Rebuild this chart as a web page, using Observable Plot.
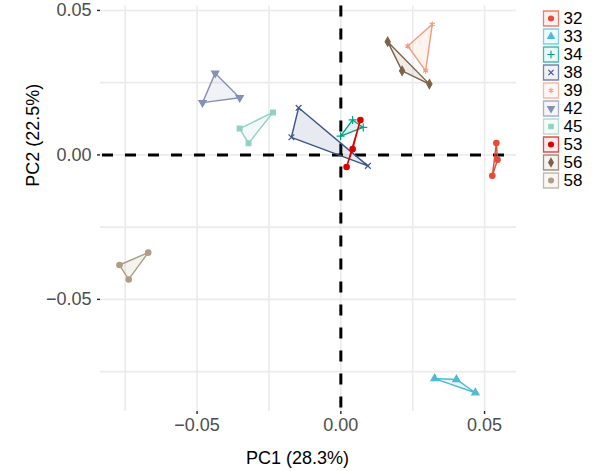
<!DOCTYPE html>
<html>
<head>
<meta charset="utf-8">
<script src="https://cdn.jsdelivr.net/npm/d3@7"></script>
<script src="https://cdn.jsdelivr.net/npm/@observablehq/plot@0.6"></script>
<style>
  body { margin: 0; background: white; }
  #wrap { position: relative; width: 597px; height: 471px; overflow: hidden; background: white; }
  #legend { position: absolute; left: 530px; top: 0px; }
</style>
</head>
<body>
<div id="wrap"><div id="chart"></div><div id="legend"></div></div>
<script>
// ---- data ----
const groups = ["32", "33", "34", "38", "39", "42", "45", "53", "56", "58"];
const sampleGroup = [
  "32","32","32", "33","33","33", "34","34","34", "38","38","38",
  "39","39","39", "42","42","42", "45","45","45", "53","53","53",
  "56","56","56", "58","58","58"
];
const pc1Values = [
  0.0541, 0.0545, 0.0527,
  0.0326, 0.0402, 0.0468,
  -0.0001, 0.0041, 0.0078,
  -0.0147, -0.0172, 0.0094,
  0.0318, 0.0233, 0.0295,
  -0.0437, -0.0481, -0.0352,
  -0.0236, -0.0352, -0.0321,
  0.0068, 0.0041, 0.0020,
  0.0163, 0.0213, 0.0308,
  -0.0670, -0.0770, -0.0738
];
const pc2Values = [
  0.0041, -0.0017, -0.0072,
  -0.0774, -0.0777, -0.0823,
  0.0065, 0.0121, 0.0095,
  0.0163, 0.0061, -0.0038,
  0.0452, 0.0377, 0.0291,
  0.0283, 0.0181, 0.0198,
  0.0147, 0.0091, 0.0040,
  0.0121, 0.0020, -0.0042,
  0.0392, 0.0291, 0.0245,
  -0.0338, -0.0381, -0.0431
];
const xTicks = [-0.05, 0, 0.05];
const yTicks = [-0.05, 0, 0.05];
const xGrid = [-0.075, -0.05, -0.025, 0, 0.025, 0.05];
const yGrid = [-0.075, -0.05, -0.025, 0, 0.025, 0.05];
const xTitle = "PC1 (28.3%)";
const yTitle = "PC2 (22.5%)";

// ---- styles ----
const palette = ["#E64B35", "#4DBBD5", "#00A087", "#3C5488", "#F39B7F",
                 "#8491B4", "#91D1C2", "#DC0000", "#7E6148", "#B09C85"];
const triangleDown = {
  draw(context, size) {
    const y = -Math.sqrt(size / (Math.sqrt(3) * 3));
    context.moveTo(0, -y * 2);
    context.lineTo(-Math.sqrt(3) * y, y);
    context.lineTo(Math.sqrt(3) * y, y);
    context.closePath();
  }
};
const symbolRange = ["circle", "triangle", "plus", "times", "asterisk",
                     triangleDown, "square", "circle", "diamond", "circle"];

const data = sampleGroup.map((g, i) => ({group: g, pc1: pc1Values[i], pc2: pc2Values[i]}));

const font = "'Liberation Sans', Arial, Helvetica, sans-serif";

const chart = Plot.plot({
  width: 597,
  height: 471,
  marginLeft: 100,
  marginRight: 81,
  marginTop: 5.6,
  marginBottom: 60,
  style: {fontFamily: font, fontSize: "18px", background: "white", overflow: "visible"},
  x: {domain: [-0.0836, 0.0611]},
  y: {domain: [-0.0888, 0.0515]},
  color: {domain: groups, range: palette},
  symbol: {domain: groups, range: symbolRange},
  marks: [
    Plot.ruleX(xGrid, {stroke: "#ebebeb", strokeWidth: 1.6}),
    Plot.ruleY(yGrid, {stroke: "#ebebeb", strokeWidth: 1.6}),
    Plot.ruleX([0], {stroke: "black", strokeWidth: 3, strokeDasharray: "11,12"}),
    Plot.ruleY([0], {stroke: "black", strokeWidth: 3, strokeDasharray: "11,12", strokeDashoffset: -2}),
    Plot.hull(data, {x: "pc1", y: "pc2", z: "group", fill: "group", stroke: "group",
                     fillOpacity: 0.12, strokeWidth: 1.4, strokeOpacity: 1}),
    Plot.dot(data, {x: "pc1", y: "pc2", fill: "group", stroke: "group", symbol: "group",
                    r: 2.7, strokeWidth: 1.2}),
    Plot.axisX({ticks: xTicks, tickFormat: d3.format(".2f"), tickSize: 3, tickPadding: 4,
                label: null, fill: "#4d4d4d", stroke: "#222", strokeWidth: 1.4, fontSize: 18}),
    Plot.axisY({ticks: yTicks, tickFormat: d3.format(".2f"), tickSize: 3, tickPadding: 6,
                label: null, fill: "#4d4d4d", stroke: "#222", strokeWidth: 1.4, fontSize: 18}),
    Plot.text([xTitle], {text: d => d, frameAnchor: "bottom", dx: -11, dy: 47,
                         fill: "black", fontSize: 18, lineAnchor: "middle"}),
    Plot.text([yTitle], {text: d => d, frameAnchor: "left", rotate: -90, dx: -67, dy: -22,
                         fill: "black", fontSize: 18, lineAnchor: "middle"})
  ]
});
document.getElementById("chart").appendChild(chart);

const legend = Plot.plot({
  width: 67,
  height: 200,
  margin: 0,
  style: {fontFamily: font, fontSize: "17px", background: "transparent", overflow: "visible"},
  x: {axis: null},
  y: {type: "point", domain: groups, range: [16.7, 180.5], padding: 0, axis: null},
  color: {domain: groups, range: palette},
  symbol: {domain: groups, range: symbolRange},
  marks: [
    Plot.dot(groups, {y: d => d, frameAnchor: "left", dx: 20.5, symbol: "square",
                      r: Math.sqrt(225 / Math.PI), fill: d => d, stroke: d => d,
                      fillOpacity: 0.08, strokeOpacity: 0.7, strokeWidth: 1.3}),
    Plot.dot(groups, {y: d => d, frameAnchor: "left", dx: 20.5, symbol: d => d,
                      fill: d => d, stroke: d => d, r: 2.5, strokeWidth: 1.1}),
    Plot.text(groups, {y: d => d, text: d => d, frameAnchor: "left", dx: 33,
                       textAnchor: "start", fill: "black", fontSize: 17})
  ]
});
document.getElementById("legend").appendChild(legend);
</script>
</body>
</html>
